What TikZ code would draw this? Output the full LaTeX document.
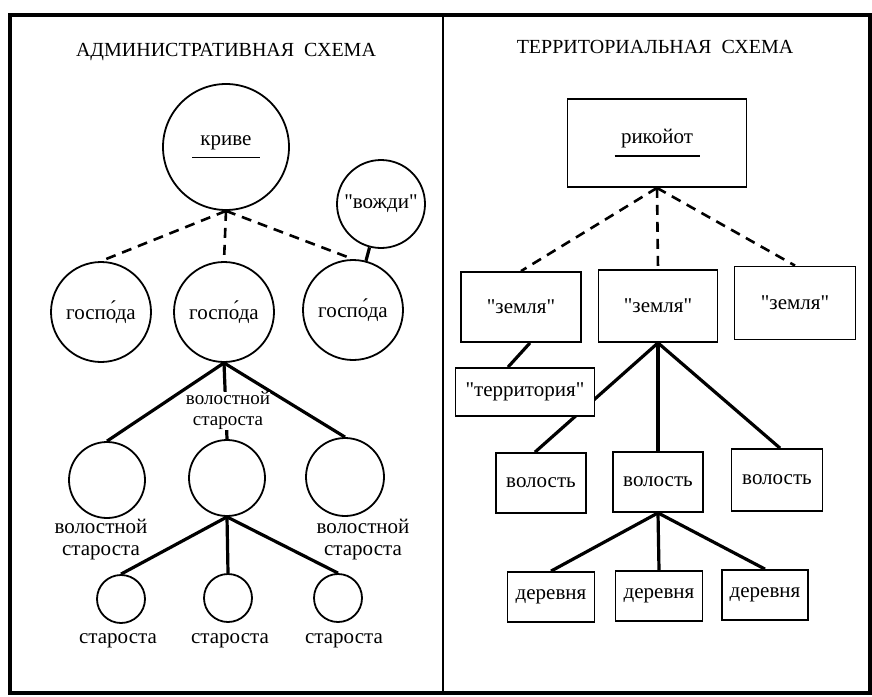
\documentclass[tikz,border=0pt]{standalone}
\usepackage{fontspec}
\newfontfamily\rufont{Liberation Serif}
\usetikzlibrary{positioning}

\begin{document}
\begin{tikzpicture}[x=1pt, y=-1pt, font=\rufont\fontsize{21}{22}\selectfont,
  circ/.style={circle, draw, line width=1.8pt, inner sep=0pt},
  box/.style={rectangle, draw, line width=1.8pt, inner sep=0pt},
  link/.style={line width=3.2pt},
  dlink/.style={line width=2.6pt, dash pattern=on 10pt off 7pt},
  lbl/.style={align=center, inner sep=1pt}]
  \useasboundingbox (0,0) rectangle (872,696);
  % frame
  \draw[line width=3.5pt] (10,693) -- (10,15) -- (870,15) -- (870,693) -- cycle;
  \draw[line width=1.8pt] (443,15) -- (443,693);
  \node (ttl1) [inner sep=0pt, font=\rufont\fontsize{20}{22}\selectfont] at (226,52) {АДМИНИСТРАТИВНАЯ\ \ СХЕМА};
  \node (ttl2) [inner sep=0pt, font=\rufont\fontsize{20}{22}\selectfont] at (655,47) {ТЕРРИТОРИАЛЬНАЯ\ \ СХЕМА};

  % administrative scheme
  \node (krive) [circ, minimum size=126pt, align=center] at (226,147) {криве\\[-9pt]\rule{68pt}{1.8pt}};
  \node (vozhdi) [circ, minimum size=88pt] at (381,204) {"вожди"};
  \node (gosp1) [circ, minimum size=100pt] at (101,312) {госпо́да};
  \node (gosp2) [circ, minimum size=100pt] at (224,312) {госпо́да};
  \node (gosp3) [circ, minimum size=100pt] at (353,310) {госпо́да};
  \node (vs1) [circ, minimum size=76pt] at (107,480) {};
  \node (vs2) [circ, minimum size=76pt] at (227,478) {};
  \node (vs3) [circ, minimum size=78pt] at (345,477) {};
  \node (st1) [circ, minimum size=48pt] at (121,599) {};
  \node (st2) [circ, minimum size=48pt] at (228,598) {};
  \node (st3) [circ, minimum size=48pt] at (338,598) {};
  \draw[dlink] (krive.south) -- (gosp1.north);
  \draw[dlink] (krive.south) -- (gosp2.north);
  \draw[dlink] (krive.south) -- (gosp3.north);
  \draw[link] (vozhdi) -- (gosp3);
  \draw[link] (gosp2.south) -- (vs1.north);
  \draw[link] (gosp2.south) -- (vs2.north);
  \draw[link] (gosp2.south) -- (vs3.north);
  \draw[link] (vs2.south) -- (st1.north);
  \draw[link] (vs2.south) -- (st2.north);
  \draw[link] (vs2.south) -- (st3.north);
  \node (vsl2) [lbl, fill=white, inner sep=0pt, font=\rufont\fontsize{19}{21}\selectfont] at (228,411) {волостной\\староста};
  \node (vsl1) [lbl] at (101,540) {волостной\\староста};
  \node (vsl3) [lbl] at (363,540) {волостной\\староста};
  \node (stl1) [lbl] at (118,641) {староста};
  \node (stl2) [lbl] at (230,641) {староста};
  \node (stl3) [lbl] at (344,641) {староста};

  % territorial scheme
  \node (rik) [box, minimum width=179pt, minimum height=88pt, align=center] at (657,143) {рикойот\\[-9pt]\rule{85pt}{1.8pt}};
  \node (zem1) [box, minimum width=120pt, minimum height=70pt] at (521,307) {"земля"};
  \node (zem2) [box, minimum width=119pt, minimum height=72pt] at (658,306) {"земля"};
  \node (zem3) [box, minimum width=121pt, minimum height=73pt] at (795,303) {"земля"};
  \node (vol1) [box, minimum width=90pt, minimum height=60pt] at (541,483) {волость};
  \node (vol2) [box, minimum width=90pt, minimum height=60pt] at (658,482) {волость};
  \node (vol3) [box, minimum width=91pt, minimum height=62pt] at (777,480) {волость};
  \node (der1) [box, minimum width=87pt, minimum height=50pt] at (551,597) {деревня};
  \node (der2) [box, minimum width=87pt, minimum height=50pt] at (659,596) {деревня};
  \node (der3) [box, minimum width=86pt, minimum height=50pt] at (765,595) {деревня};
  \draw[dlink] (rik.south) -- (zem1.north);
  \draw[dlink] (rik.south) -- (zem2.north);
  \draw[dlink] (rik.south) -- (zem3.north);
  \draw[link] (zem2.south) -- ([xshift=-6pt]vol1.north);
  \draw[link] (zem2.south) -- (vol2.north);
  \draw[link] (zem2.south) -- ([xshift=3pt]vol3.north);
  \draw[link] (vol2.south) -- (der1.north);
  \draw[link] (vol2.south) -- (der2.north);
  \draw[link] (vol2.south) -- (der3.north);
  \node (terr) [box, fill=white, minimum width=139pt, minimum height=48pt] at (525,392) {"территория"};
  \draw[link] ([xshift=9pt]zem1.south) -- ([xshift=-17pt]terr.north);
\end{tikzpicture}
\end{document}
